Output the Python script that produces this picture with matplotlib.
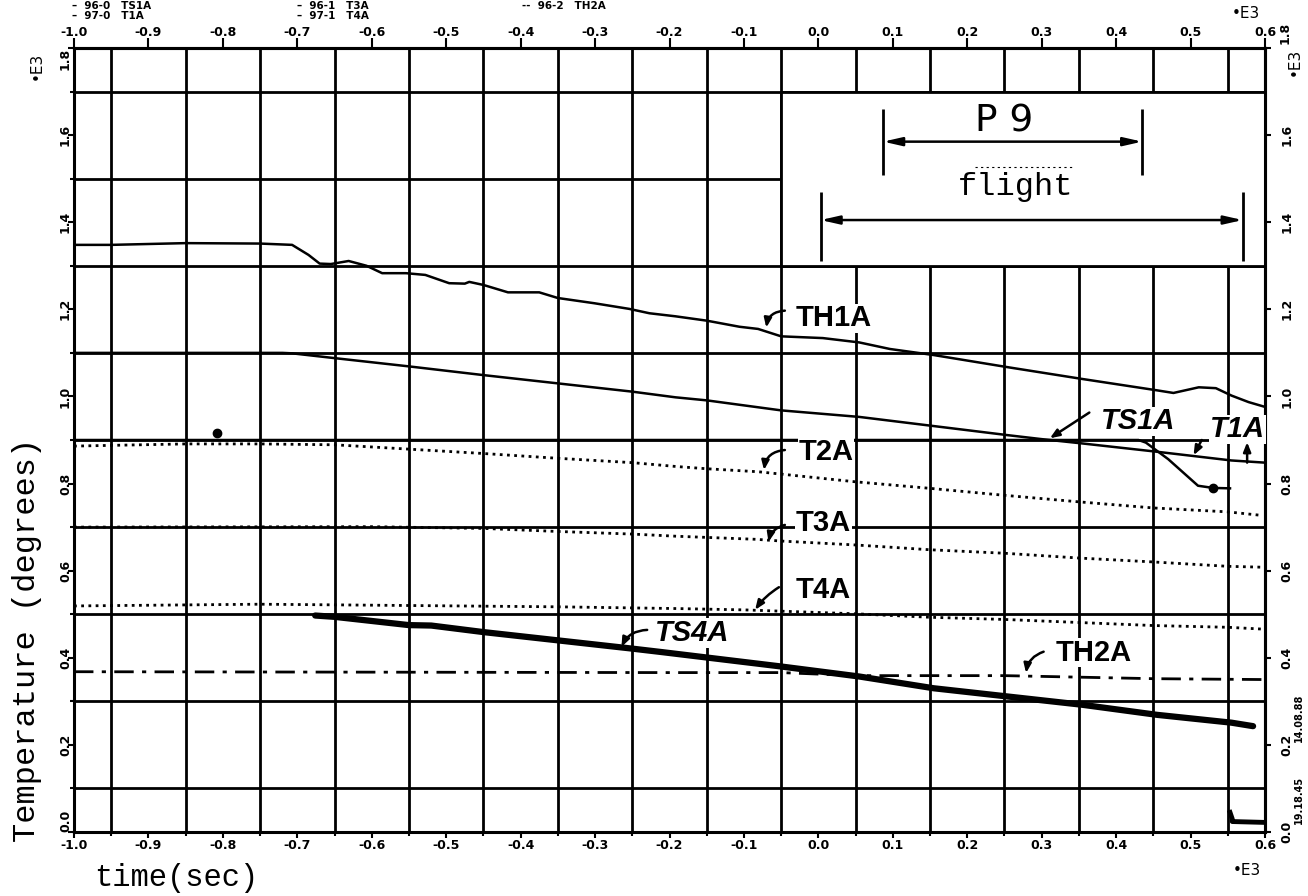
import matplotlib
matplotlib.use("Agg")
import matplotlib.pyplot as plt
from matplotlib.patches import Rectangle

# ---------------- data ----------------
x_ticks = [-1.0, -0.9, -0.8, -0.7, -0.6, -0.5, -0.4, -0.3, -0.2, -0.1, 0.0, 0.1, 0.2, 0.3, 0.4, 0.5, 0.6]
x_tick_labels = ["-1.0", "-0.9", "-0.8", "-0.7", "-0.6", "-0.5", "-0.4", "-0.3", "-0.2", "-0.1",
                 "0.0", "0.1", "0.2", "0.3", "0.4", "0.5", "0.6"]
y_ticks = [0.0, 0.2, 0.4, 0.6, 0.8, 1.0, 1.2, 1.4, 1.6, 1.8]
y_tick_labels = ["0.0", "0.2", "0.4", "0.6", "0.8", "1.0", "1.2", "1.4", "1.6", "1.8"]
grid_x = [-0.95, -0.85, -0.75, -0.65, -0.55, -0.45, -0.35, -0.25, -0.15, -0.05,
          0.05, 0.15, 0.25, 0.35, 0.45, 0.55]
grid_y = [0.1, 0.3, 0.5, 0.7, 0.9, 1.1, 1.3, 1.5, 1.7]

th1a_x = [-1.0, -0.95, -0.85, -0.75, -0.707, -0.685, -0.67, -0.655, -0.631, -0.607, -0.586, -0.554,
          -0.528, -0.496, -0.475, -0.469, -0.45, -0.417, -0.375, -0.35, -0.301, -0.254, -0.227,
          -0.192, -0.15, -0.106, -0.081, -0.05, 0.006, 0.055, 0.096, 0.155, 0.255, 0.355, 0.455,
          0.477, 0.511, 0.534, 0.555, 0.578, 0.6]
th1a_y = [1.348, 1.348, 1.352, 1.351, 1.348, 1.325, 1.305, 1.304, 1.311, 1.300, 1.283, 1.283,
          1.279, 1.260, 1.259, 1.263, 1.256, 1.239, 1.239, 1.226, 1.214, 1.201, 1.191,
          1.184, 1.174, 1.160, 1.155, 1.138, 1.134, 1.124, 1.109, 1.095, 1.067, 1.040, 1.014,
          1.008, 1.021, 1.019, 1.002, 0.987, 0.976]

t1a_x = [-1.0, -0.72, -0.707, -0.65, -0.55, -0.45, -0.35, -0.25, -0.192, -0.15, -0.05, 0.055,
         0.155, 0.255, 0.30, 0.355, 0.455, 0.555, 0.6]
t1a_y = [1.1, 1.1, 1.099, 1.088, 1.069, 1.049, 1.030, 1.011, 0.998, 0.991, 0.968, 0.953,
         0.932, 0.911, 0.902, 0.892, 0.873, 0.853, 0.848]

ts1a_x = [-1.0, 0.43, 0.44, 0.47, 0.51, 0.53, 0.553]
ts1a_y = [0.9, 0.9, 0.894, 0.856, 0.795, 0.790, 0.789]

t2a_x = [-1.0, -0.85, -0.75, -0.65, -0.55, -0.45, -0.35, -0.25, -0.19, -0.15, -0.08, 0.05,
         0.15, 0.25, 0.35, 0.45, 0.55, 0.595]
t2a_y = [0.886, 0.891, 0.891, 0.889, 0.879, 0.869, 0.858, 0.848, 0.839, 0.834, 0.827, 0.804,
         0.789, 0.773, 0.758, 0.744, 0.735, 0.727]

t3a_x = [-1.0, -0.6, -0.45, -0.35, -0.25, -0.19, -0.084, -0.05, 0.05, 0.15, 0.25, 0.35, 0.45,
         0.55, 0.595]
t3a_y = [0.700, 0.701, 0.697, 0.690, 0.684, 0.679, 0.672, 0.668, 0.659, 0.648, 0.640, 0.629,
         0.620, 0.610, 0.608]

t4a_x = [-1.0, -0.75, -0.55, -0.35, -0.19, -0.1, 0.05, 0.15, 0.25, 0.35, 0.45, 0.55, 0.595]
t4a_y = [0.519, 0.523, 0.520, 0.517, 0.513, 0.510, 0.501, 0.493, 0.488, 0.481, 0.474, 0.470, 0.466]

ts4a_x = [-0.676, -0.65, -0.55, -0.52, -0.45, -0.35, -0.25, -0.21, -0.05, 0.055, 0.155, 0.255,
          0.355, 0.455, 0.555, 0.584]
ts4a_y = [0.497, 0.494, 0.475, 0.474, 0.459, 0.440, 0.421, 0.413, 0.380, 0.357, 0.330, 0.311,
          0.292, 0.269, 0.251, 0.243]

th2a_x = [-1.0, -0.2, -0.05, 0.05, 0.25, 0.45, 0.6]
th2a_y = [0.368, 0.366, 0.366, 0.359, 0.359, 0.352, 0.350]

end_x = [0.553, 0.556, 0.556, 0.6]
end_y = [0.045, 0.030, 0.024, 0.022]

# ---------------- figure ----------------
W, H = 1308, 896
fig = plt.figure(figsize=(W / 100, H / 100), dpi=100)
fig.patch.set_facecolor("white")
ax = fig.add_axes([74 / W, 1 - 832 / H, (1265 - 74) / W, (832 - 48) / H])
ax.set_xlim(-1.0, 0.6)
ax.set_ylim(0.0, 1.8)

for gx in grid_x:
    ax.axvline(gx, color="black", lw=2.0, zorder=1)
for gy in grid_y:
    ax.axhline(gy, color="black", lw=2.0, zorder=1)
for s in ax.spines.values():
    s.set_linewidth(2.2)

# white "flight" box
ax.add_patch(Rectangle((-0.05, 1.3), 0.65, 0.4, facecolor="white", edgecolor="black",
                       lw=2.0, zorder=2))

# curves
ax.plot(th1a_x, th1a_y, color="black", lw=1.8, zorder=3)
ax.plot(t1a_x, t1a_y, color="black", lw=1.8, zorder=3)
ax.plot(ts1a_x, ts1a_y, color="black", lw=1.8, zorder=3)
ax.plot(ts1a_x[-2:-1], ts1a_y[-2:-1], "o", color="black", ms=6, zorder=3)
ax.plot(t2a_x, t2a_y, color="black", lw=2.0, ls=(0, (1, 1.6)), zorder=3)
ax.plot(t3a_x, t3a_y, color="black", lw=2.0, ls=(0, (1, 1.6)), zorder=3)
ax.plot(t4a_x, t4a_y, color="black", lw=2.0, ls=(0, (1, 1.6)), zorder=3)
ax.plot(th2a_x, th2a_y, color="black", lw=2.0, ls=(0, (7, 3, 1.5, 3)), zorder=3)
ax.plot(ts4a_x, ts4a_y, color="black", lw=4.5, solid_capstyle="round", zorder=3)
ax.plot(end_x, end_y, color="black", lw=3.5, zorder=3)
ax.plot([-0.808], [0.915], "o", color="black", ms=6, zorder=3)

# ticks
tick_font = dict(fontsize=9, fontweight="bold", family="DejaVu Sans")
ax.set_xticks(x_ticks)
ax.set_xticklabels(x_tick_labels, **tick_font)
ax.set_yticks(y_ticks)
ax.set_yticklabels(y_tick_labels, **tick_font)
ax.set_xticks(grid_x, minor=True)
ax.set_yticks(grid_y, minor=True)
ax.tick_params(axis="x", which="major", direction="out", length=4, width=1.5, pad=1)
ax.tick_params(axis="y", which="major", direction="out", length=4, width=1.5, pad=-2.5,
               labelrotation=90)
ax.tick_params(which="minor", direction="out", length=3, width=1.5)
ylbls = ax.get_yticklabels()
for lb in ylbls:
    lb.set_va("center")
ylbls[0].set_va("bottom")
ylbls[-1].set_va("top")

secx = ax.secondary_xaxis("top")
secx.set_xticks(x_ticks)
secx.set_xticklabels(x_tick_labels, **tick_font)
secx.tick_params(direction="out", length=7, width=1.5, pad=-0.5)
secx.spines["top"].set_linewidth(2.2)

right_labels = y_tick_labels[:-1] + [""]
secy = ax.secondary_yaxis("right")
secy.set_yticks(y_ticks)
secy.set_yticklabels(right_labels, **tick_font)
secy.tick_params(direction="out", length=4, width=1.5, pad=7, labelrotation=90)
secy.spines["right"].set_linewidth(2.2)
for lb in secy.get_yticklabels():
    lb.set_va("center")

# curve labels
lab = dict(fontsize=21, fontweight="bold", family="Liberation Sans", ha="center",
           va="center", zorder=5, bbox=dict(fc="white", ec="none", pad=0.5))
ax.text(0.021, 1.179, "TH1A", **lab)
ax.text(0.010, 0.873, "T2A", **lab)
ax.text(0.007, 0.709, "T3A", **lab)
ax.text(0.006, 0.556, "T4A", **lab)
ax.text(0.370, 0.412, "TH2A", **lab)
ax.text(-0.170, 0.457, "TS4A", style="italic", **lab)
ax.text(0.430, 0.943, "TS1A", style="italic", **lab)
ax.text(0.563, 0.925, "T1A", style="italic", **lab)


def arrow(start, end, rad=0.0):
    ax.annotate("", xy=end, xytext=start, zorder=6,
                arrowprops=dict(arrowstyle="-|>,head_length=0.55,head_width=0.22",
                                lw=1.8, color="black", shrinkA=0, shrinkB=0,
                                connectionstyle="arc3,rad=%s" % rad))


arrow((-0.045, 1.197), (-0.070, 1.158), 0.4)
arrow((-0.045, 0.877), (-0.073, 0.831), 0.4)
arrow((-0.045, 0.705), (-0.067, 0.666), 0.3)
arrow((-0.053, 0.562), (-0.085, 0.510), 0.1)
arrow((-0.230, 0.464), (-0.2645, 0.425), 0.3)
arrow((0.3026, 0.414), (0.279, 0.365), 0.3)
arrow((0.364, 0.963), (0.311, 0.904), 0.0)
arrow((0.515, 0.900), (0.504, 0.865), 0.0)
arrow((0.576, 0.848), (0.576, 0.895), 0.0)

# flight / P9 annotations
ax.vlines([0.003, 0.570], 1.31, 1.47, color="black", lw=2.0, zorder=4)
ax.annotate("", xy=(0.003, 1.405), xytext=(0.570, 1.405), zorder=4,
            arrowprops=dict(arrowstyle="<|-|>,head_length=1.1,head_width=0.25", lw=1.8,
                            color="black", shrinkA=0, shrinkB=0))
ax.vlines([0.087, 0.435], 1.508, 1.661, color="black", lw=2.0, zorder=4)
ax.annotate("", xy=(0.087, 1.585), xytext=(0.435, 1.585), zorder=4,
            arrowprops=dict(arrowstyle="<|-|>,head_length=1.1,head_width=0.25", lw=1.8,
                            color="black", shrinkA=0, shrinkB=0))
ax.text(0.249, 1.632, "P 9", fontsize=27, family="DejaVu Sans", ha="center", va="center",
        zorder=5)
ax.text(0.265, 1.482, "flight", fontsize=23, family="Liberation Mono", ha="center",
        va="center", zorder=5)
ax.plot([0.21, 0.345], [1.527, 1.527], color="black", lw=0.8, ls=(0, (2, 3)), zorder=4)

# axis titles and side texts (figure pixel coordinates)
def ftext(px, py, s, **kw):
    fig.text(px / W, 1 - py / H, s, **kw)


ftext(176, 878, "time(sec)", fontsize=22, family="Liberation Mono", ha="center", va="center")
ftext(27, 640, "Temperature (degrees)", fontsize=23, family="Liberation Mono", ha="center",
      va="center", rotation=90)
e3 = dict(fontsize=11, family="DejaVu Sans", ha="center", va="center")
ftext(1246, 14, "\u2022E3", **e3)
ftext(1247, 870, "\u2022E3", **e3)
ftext(36, 66, "\u2022E3", rotation=90, **e3)
ftext(1294, 62, "\u2022E3", rotation=90, **e3)
ftext(1285, 33, y_tick_labels[-1], rotation=90, ha="center", va="center", **tick_font)
small = dict(fontsize=7, fontweight="bold", family="DejaVu Sans", ha="center", va="center",
             rotation=90)
ftext(1299, 718, "14.08.88", **small)
ftext(1299, 800, "19.18.45", **small)

hdr = dict(fontsize=7.5, fontweight="bold", family="DejaVu Sans", ha="left", va="center")
ftext(72, 6, "\u2013  96-0   TS1A", **hdr)
ftext(72, 16, "\u2013  97-0   T1A", **hdr)
ftext(297, 6, "\u2013  96-1   T3A", **hdr)
ftext(297, 16, "\u2013  97-1   T4A", **hdr)
ftext(522, 6, "--  96-2   TH2A", **hdr)

fig.savefig("out.png", dpi=100, facecolor="white")
